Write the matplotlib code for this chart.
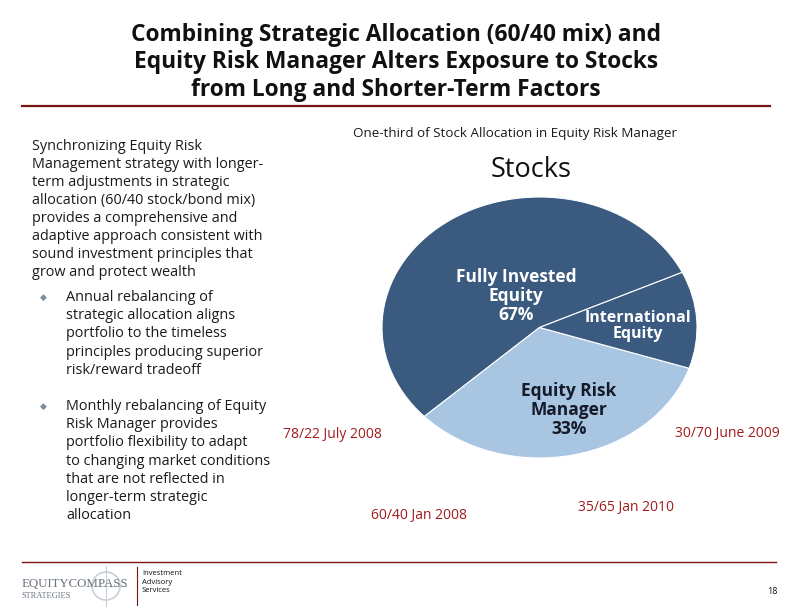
import matplotlib; matplotlib.use("Agg")
import matplotlib.pyplot as plt
from matplotlib.patches import Circle

W, H = 792, 612

# Pie data (share of stock allocation)
slice_names = ["Fully Invested Equity", "Equity Risk Manager", "International Equity"]
slice_values = [55, 33, 12]
slice_colors = ["#3a5a80", "#a8c5e1", "#3a5a80"]

title_lines = ["Combining Strategic Allocation (60/40 mix) and",
               "Equity Risk Manager Alters Exposure to Stocks",
               "from Long and Shorter-Term Factors"]

intro_text = ("Synchronizing Equity Risk\nManagement strategy with longer-\n"
              "term adjustments in strategic\nallocation (60/40 stock/bond mix)\n"
              "provides a comprehensive and\nadaptive approach consistent with\n"
              "sound investment principles that\ngrow and protect wealth")
bullets = [
    "Annual rebalancing of\nstrategic allocation aligns\nportfolio to the timeless\n"
    "principles producing superior\nrisk/reward tradeoff",
    "Monthly rebalancing of Equity\nRisk Manager provides\nportfolio flexibility to adapt\n"
    "to changing market conditions\nthat are not reflected in\nlonger-term strategic\nallocation",
]

mix_labels = ["78/22 July 2008", "30/70 June 2009", "60/40 Jan 2008", "35/65 Jan 2010"]
mix_pos = [(332, 435), (727, 434), (419, 515), (626, 507)]

FONT = "Open Sans"


def fx(x):
    return x / W


def fy(y):
    return 1 - y / H


fig = plt.figure(figsize=(7.92, 6.12), dpi=100)
fig.patch.set_facecolor("white")

# title
for i, line in enumerate(title_lines):
    fig.text(fx(396), fy(35 + 27.5 * i), line, ha="center", va="center",
             fontsize=16.4, fontweight="bold", family=FONT, color="#111111")

# rule lines
fig.add_artist(plt.Line2D([fx(22), fx(770)], [fy(106), fy(106)], color="#7a1414", lw=1.6))
fig.add_artist(plt.Line2D([fx(22), fx(776)], [fy(562), fy(562)], color="#7a1414", lw=1.0))

# left text block
fig.text(fx(32), fy(139), intro_text, ha="left", va="top", fontsize=10.4,
         family=FONT, color="#1a1a1a", linespacing=1.27)
for top, b in zip([290, 399], bullets):
    fig.text(fx(40), fy(top + 7), "\u25c6", ha="left", va="center", fontsize=6.5,
             family="DejaVu Sans", color="#7f8c99")
    fig.text(fx(66), fy(top), b, ha="left", va="top", fontsize=10.4,
             family=FONT, color="#1a1a1a", linespacing=1.29)

# right header
fig.text(fx(515), fy(133), "One-third of Stock Allocation in Equity Risk Manager",
         ha="center", va="center", fontsize=9.65, family=FONT, color="#1a1a1a")
fig.text(fx(531), fy(170), "Stocks", ha="center", va="center", fontsize=19.5,
         family=FONT, color="#111111")

# pie (elliptical)
ax = fig.add_axes([fx(382), fy(458), (697 - 382) / W, (458 - 197) / H])
ax.pie(slice_values, colors=slice_colors, startangle=25, counterclock=True,
       wedgeprops=dict(edgecolor="white", linewidth=0.8))
ax.set_aspect("auto")
ax.set_xlim(-1, 1)
ax.set_ylim(-1, 1)
ax.axis("off")

fig.text(fx(516), fy(296), "Fully Invested\nEquity\n67%", ha="center", va="center",
         fontsize=12.5, fontweight="bold", family=FONT, color="white", linespacing=1.05)
fig.text(fx(638), fy(326), "International\nEquity", ha="center", va="center",
         fontsize=11.5, fontweight="bold", family=FONT, color="white", linespacing=1.05)
fig.text(fx(569), fy(410), "Equity Risk\nManager\n33%", ha="center", va="center",
         fontsize=12.5, fontweight="bold", family=FONT, color="#141a28", linespacing=1.05)

for lbl, (x, y) in zip(mix_labels, mix_pos):
    fig.text(fx(x), fy(y), lbl, ha="center", va="center", fontsize=10,
             family=FONT, color="#a01c1c")

# footer logo
logo = fig.add_axes([fx(20), fy(608), 120 / W, 44 / H])
logo.set_xlim(0, 120)
logo.set_ylim(0, 44)
logo.axis("off")
logo.add_patch(Circle((86, 22), 14, fill=False, ec="#c9cfd6", lw=1.2))
logo.plot([86, 86], [2, 42], color="#c9cfd6", lw=0.8)
logo.plot([66, 106], [22, 22], color="#c9cfd6", lw=0.8)
logo.text(2, 24, "EQUITYCOMPASS", ha="left", va="center", fontsize=9.3,
          family="Liberation Serif", color="#6b7480")
logo.text(2, 12, "STRATEGIES", ha="left", va="center", fontsize=6,
          family="Liberation Serif", color="#6b7480")
fig.add_artist(plt.Line2D([fx(137), fx(137)], [fy(567), fy(605)], color="#7a1414", lw=0.8))
fig.text(fx(142), fy(570), "Investment\nAdvisory\nServices", ha="left", va="top",
         fontsize=5.5, family=FONT, color="#111111", linespacing=1.3)
fig.text(fx(772), fy(592), "18", ha="center", va="center", fontsize=6.5,
         family=FONT, color="#111111")

fig.savefig("out.png", dpi=100, facecolor="white")
